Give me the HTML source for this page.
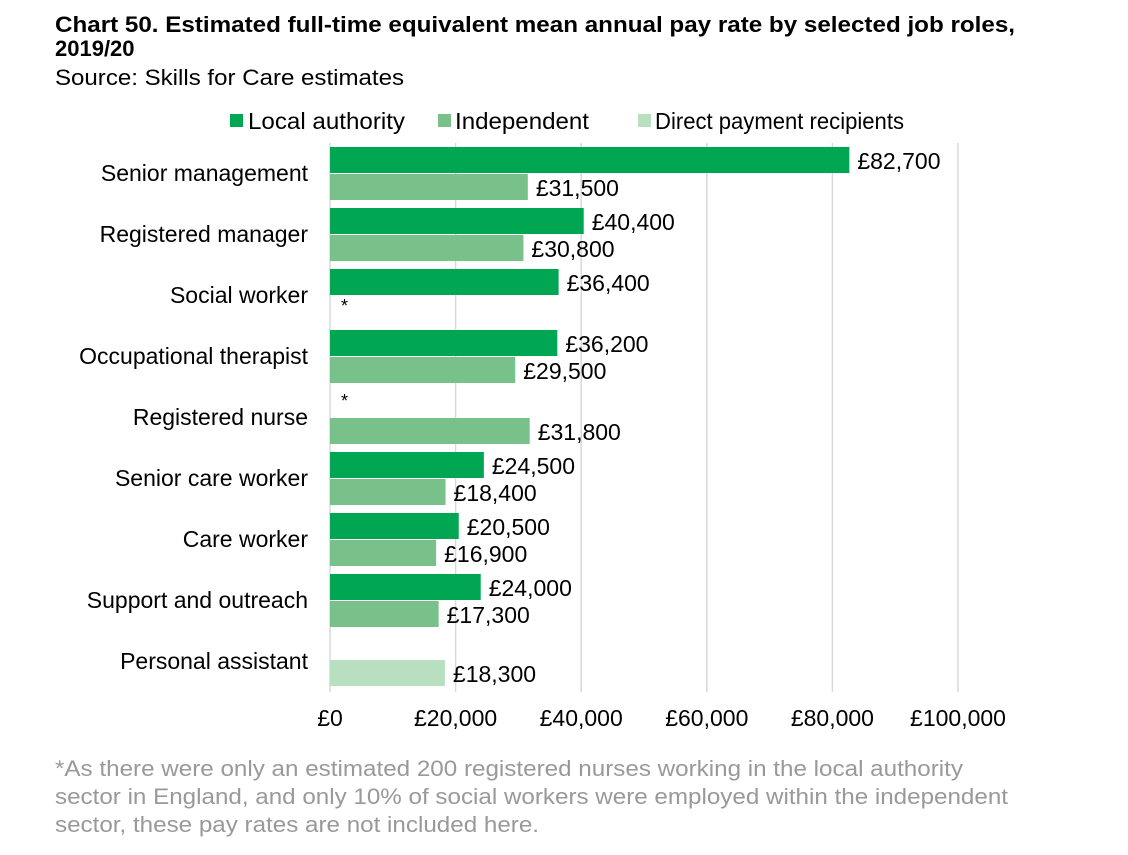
<!DOCTYPE html>
<html><head><meta charset="utf-8"><style>
body{margin:0;background:#fff;font-family:"Liberation Sans",Arial,sans-serif;}
svg text{font-family:"Liberation Sans",Arial,sans-serif;}
</style></head><body>
<svg id="c" width="1128" height="850" viewBox="0 0 1128 850" xmlns="http://www.w3.org/2000/svg">
<text x="55" y="32" font-size="22" font-weight="bold" fill="#000" textLength="960" lengthAdjust="spacingAndGlyphs">Chart 50. Estimated full-time equivalent mean annual pay rate by selected job roles,</text>
<text x="55" y="56" font-size="22" font-weight="bold" fill="#000">2019/20</text>
<text x="55" y="85" font-size="22" fill="#000" textLength="349" lengthAdjust="spacingAndGlyphs">Source: Skills for Care estimates</text>
<g>
<rect x="230" y="114" width="13" height="13" fill="#00a651"/>
<text x="248" y="129" font-size="23" textLength="157" lengthAdjust="spacingAndGlyphs">Local authority</text>
<rect x="438" y="114" width="13" height="13" fill="#78c18a"/>
<text x="455" y="129" font-size="23" textLength="134" lengthAdjust="spacingAndGlyphs">Independent</text>
<rect x="638" y="114" width="13" height="13" fill="#b8dfc0"/>
<text x="655" y="129" font-size="23" textLength="249" lengthAdjust="spacingAndGlyphs">Direct payment recipients</text>
</g>
<g id="plot"></g>
<g fill="#999" font-size="22">
<text x="55" y="776" textLength="908" lengthAdjust="spacingAndGlyphs">*As there were only an estimated 200 registered nurses working in the local authority</text>
<text x="55" y="804" textLength="953" lengthAdjust="spacingAndGlyphs">sector in England, and only 10% of social workers were employed within the independent</text>
<text x="55" y="832" textLength="484" lengthAdjust="spacingAndGlyphs">sector, these pay rates are not included here.</text>
</g>
</svg>
<script>
const categories=["Senior management","Registered manager","Social worker","Occupational therapist","Registered nurse","Senior care worker","Care worker","Support and outreach","Personal assistant"];
const localAuthority=[82700,40400,36400,36200,null,24500,20500,24000,null];
const independent=[31500,30800,null,29500,31800,18400,16900,17300,null];
const directPayment=[null,null,null,null,null,null,null,null,18300];
const asteriskLA=[false,false,false,false,true,false,false,false,false];
const asteriskInd=[false,false,true,false,false,false,false,false,false];
const ticks=[0,20000,40000,60000,80000,100000];
const NS="http://www.w3.org/2000/svg";
const g=document.getElementById('plot');
const x0=330,x1=958,topY=143,rowH=61;
const xs=v=>x0+(v/100000)*(x1-x0);
function el(t,a){const e=document.createElementNS(NS,t);for(const k in a)e.setAttribute(k,a[k]);g.appendChild(e);return e;}
const fmt=v=>"£"+v.toLocaleString("en-GB");
ticks.forEach(t=>{
 if(t>0){const l=el('line',{x1:xs(t),x2:xs(t),y1:topY,y2:topY+rowH*categories.length,stroke:'#d9d9d9','stroke-width':1.5});
 
 }
 const tx=el('text',{x:xs(t),y:726,'font-size':23,'text-anchor':'middle'});tx.textContent=fmt(t);
 
 
});
const ax=el('line',{x1:x0,x2:x0,y1:topY,y2:topY+rowH*categories.length,stroke:'#d9d9d9','stroke-width':1.5});


function bar(v,y,color,name){
 const r=el('rect',{x:x0,y:y,width:xs(v)-x0,height:26,fill:color});
 
 
 const t=el('text',{x:xs(v)+8,y:y+22,'font-size':23});t.textContent=fmt(v);
 
 
}
function star(y){const t=el('text',{x:341,y:y+16,'font-size':18});t.textContent='*';
 
 }
categories.forEach((c,i)=>{
 const y=topY+i*rowH;
 const lab=el('text',{x:308,y:y+38,'font-size':23,'text-anchor':'end'});lab.textContent=c;
 
 
 if(localAuthority[i]!=null)bar(localAuthority[i],y+4,'#00a651','bar-local-authority');
 if(independent[i]!=null)bar(independent[i],y+31,'#78c18a','bar-independent');
 if(directPayment[i]!=null)bar(directPayment[i],y+29,'#b8dfc0','bar-direct-payment');
 if(asteriskLA[i])star(y+4);
 if(asteriskInd[i])star(y+31);
});
</script>
</body></html>
